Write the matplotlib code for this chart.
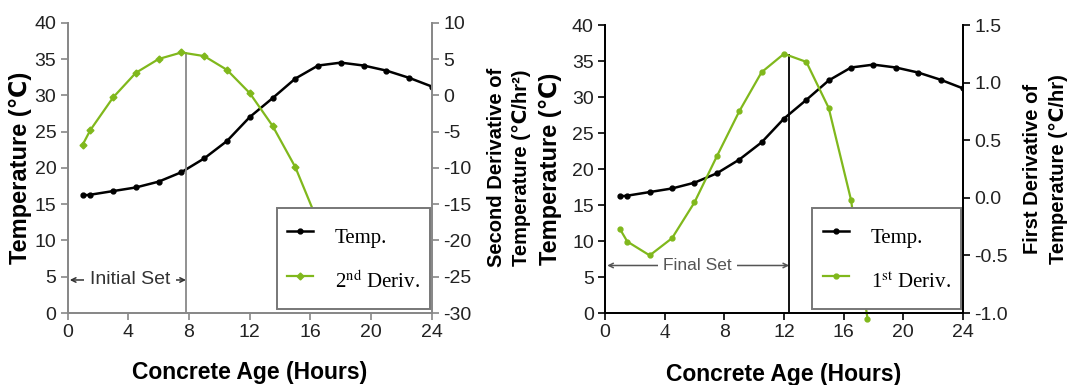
import matplotlib
matplotlib.use('Agg')
import matplotlib.pyplot as plt
from matplotlib.ticker import FormatStrFormatter

# temperature record (same curve in both panels)
hours = [1, 1.5, 3, 4.5, 6, 7.5, 9, 10.5, 12, 13.5, 15, 16.5, 18, 19.5, 21, 22.5, 24]
temp = [16.2, 16.3, 16.8, 17.3, 18.1, 19.4, 21.3, 23.7, 27.0, 29.6, 32.3, 34.1,
        34.5, 34.1, 33.4, 32.4, 31.2]

# second derivative (left panel)
d2_hours = [1, 1.5, 3, 4.5, 6, 7.5, 9, 10.5, 12, 13.5, 15, 16.5]
d2_vals = [-6.8, -4.8, -0.3, 3.1, 5.0, 5.9, 5.4, 3.5, 0.3, -4.2, -9.9, -17.5]

# first derivative (right panel)
d1_hours = [1, 1.5, 3, 4.5, 6, 7.5, 9, 10.5, 12, 13.5, 15, 16.5, 17.6]
d1_vals = [-0.27, -0.38, -0.50, -0.35, -0.04, 0.36, 0.75, 1.09, 1.25, 1.18, 0.78, -0.02, -1.05]

initial_set = 7.8
final_set = 12.35

x_ticks = [0, 4, 8, 12, 16, 20, 24]
temp_ticks = [0, 5, 10, 15, 20, 25, 30, 35, 40]
d2_ticks = [-30, -25, -20, -15, -10, -5, 0, 5, 10]
d1_ticks = [-1.0, -0.5, 0.0, 0.5, 1.0, 1.5]

GREEN = '#80b81c'
SANS = ['Liberation Sans', 'DejaVu Sans']
SERIF = ['Liberation Serif', 'DejaVu Serif']

plt.rcParams['font.family'] = SANS
plt.rcParams['mathtext.fontset'] = 'stix'


def style_axes(ax, spine_color):
    ax.spines['top'].set_visible(False)
    for side in ('left', 'right', 'bottom'):
        ax.spines[side].set_color(spine_color)
        ax.spines[side].set_linewidth(1.3)
    ax.tick_params(direction='out', length=5, width=1.2, color=spine_color,
                   labelsize=14, labelcolor='#222222', pad=3)


def draw_panel(rect, d_hours, d_vals, d_ticks, d_fmt, d_label, d_name, green_marker,
               set_x, set_y, set_text, text_x, text_size, spine_color, vline_color,
               text_color, ylab_pad):
    ax = fig.add_axes(rect)
    ax2 = ax.twinx()

    t_line, = ax.plot(hours, temp, color='black', lw=1.8, marker='o', ms=3.5)
    ax.set_xlim(0, 24)
    ax.set_ylim(0, 40)
    ax.set_xticks(x_ticks)
    ax.set_yticks(temp_ticks)
    ax.set_xlabel('Concrete Age (Hours)', fontsize=16.5, fontweight='bold', labelpad=14)
    ax.set_ylabel('Temperature (\u2103)', fontsize=17, fontweight='bold', labelpad=ylab_pad)

    d_line, = ax2.plot(d_hours, d_vals, color=GREEN, lw=1.6, marker=green_marker, ms=3.5,
                       clip_on=False, zorder=2)
    ax2.set_ylim(d_ticks[0], d_ticks[-1])
    ax2.set_yticks(d_ticks)
    ax2.yaxis.set_major_formatter(FormatStrFormatter(d_fmt))
    ax2.set_ylabel(d_label, fontsize=14.5, fontweight='bold', labelpad=11, linespacing=1.45)

    ax2.vlines(set_x, d_ticks[0], max(d_vals), color=vline_color, lw=1.3, zorder=1)

    ax.annotate('', xy=(0.15, set_y), xytext=(set_x, set_y),
                arrowprops=dict(arrowstyle='<->', color=text_color, lw=1.1,
                                shrinkA=0, shrinkB=0, mutation_scale=8))
    ax.text(text_x, set_y, set_text, ha='center', va='center', fontsize=text_size,
            color=text_color, bbox=dict(facecolor='white', edgecolor='none', pad=4))

    style_axes(ax, spine_color)
    style_axes(ax2, spine_color)

    leg = ax2.legend([t_line, d_line], ['Temp.', d_name], loc='lower right',
                     bbox_to_anchor=(0.995, 0.014), prop={'family': SERIF, 'size': 15},
                     fancybox=False, framealpha=1, edgecolor='#777777',
                     handlelength=1.25, handletextpad=1.05, handleheight=2.2,
                     labelspacing=0.48, borderpad=0.5, borderaxespad=0)
    leg.get_frame().set_linewidth(1.4)
    leg.set_zorder(5)
    return ax, ax2


fig = plt.figure(figsize=(10.77, 3.85), dpi=100)

draw_panel([0.0627, 0.187, 0.3384, 0.754], d2_hours, d2_vals, d2_ticks, '%d',
           'Second Derivative of\nTemperature (\u2103/hr\u00b2)', '2$^{\\mathrm{nd}}$ Deriv.', 'D',
           initial_set, 4.55, 'Initial Set', 4.1, 14, '#888888', '#888888', '#333333', 2)

axr, axr2 = draw_panel([0.5617, 0.187, 0.3324, 0.748], d1_hours, d1_vals, d1_ticks, '%.1f',
                       'First Derivative of\nTemperature (\u2103/hr)', '1$^{\\mathrm{st}}$ Deriv.', 'o',
                       final_set, 6.6, 'Final Set', 6.2, 12.5, 'black', 'black', '#555555', 7)

# the "4" on the right panel is set in a serif face in the original
fig.canvas.draw()
lbl = axr.get_xticklabels()[1]
lbl.set_fontfamily(SERIF)
lbl.set_fontsize(15)

fig.savefig('out.png', dpi=100)
